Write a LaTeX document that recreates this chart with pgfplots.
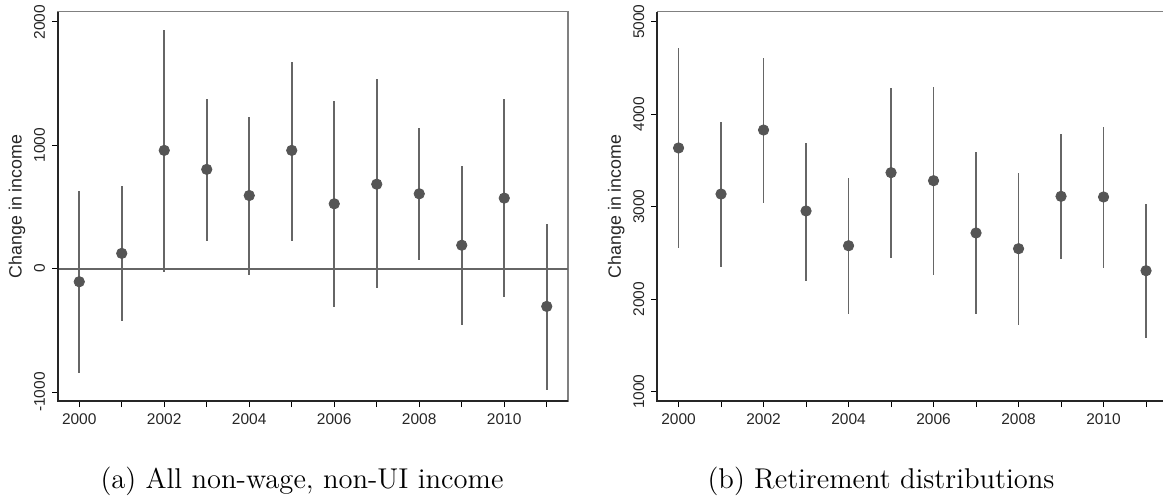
\documentclass[border=0pt]{standalone}
\usepackage{fontspec}
\usepackage{pgfplots}
\usepackage{pgfplotstable}
\pgfplotsset{compat=1.18}
\newfontfamily\arial{Liberation Sans}
\definecolor{pt}{HTML}{555555}
\definecolor{ln}{HTML}{666666}
\definecolor{frame}{HTML}{808080}

\pgfplotstableread{
year est lo hi
2000 -106 -848 629
2001 124 -423 667
2002 959 -30 1935
2003 805 228 1374
2004 593 -49 1228
2005 959 228 1675
2006 526 -309 1363
2007 685 -160 1534
2008 607 73 1141
2009 190 -458 835
2010 572 -233 1374
2011 -306 -984 363
}\left

\pgfplotstableread{
year est lo hi
2000 3635 2553 4712
2001 3137 2345 3916
2002 3829 3043 4611
2003 2954 2197 3689
2004 2578 1837 3307
2005 3368 2442 4280
2006 3281 2262 4291
2007 2716 1837 3588
2008 2546 1724 3368
2009 3112 2435 3783
2010 3105 2341 3865
2011 2308 1581 3029
}\right

\pgfplotsset{
  mystyle/.style={
    scale only axis,
    width=255pt, height=194.65pt,
    anchor=south west,
    xmin=1999.5, xmax=2011.5,
    axis line style={frame, line width=0.6pt},
    xtick={2000,...,2011},
    xticklabels={2000,,2002,,2004,,2006,,2008,,2010,},
    xtick pos=bottom, ytick pos=left,
    tick align=outside,
    major tick length=3pt,
    every tick/.style={black, line width=0.5pt},
    tick label style={font=\arial\fontsize{7.75}{9}\selectfont, text=black!85},
    yticklabel style={rotate=90, anchor=south},
    /pgf/number format/assume math mode=true,
    /pgf/number format/1000 sep={},
    ylabel={Change in income},
    ylabel shift=-2.5pt,
    ylabel style={font=\arial\fontsize{8.9}{10}\selectfont, text=black!85},
    clip=false,
    extra description/.code={
      \draw[black!85, line width=0.9pt] (rel axis cs:0,1) -- (rel axis cs:0,0) -- (rel axis cs:1,0);
    },
  },
  myplot/.style={
    only marks, mark=*, mark size=2.6pt,
    mark options={fill=pt, draw=pt},
    error bars/.cd, y dir=both, y explicit, error mark=none,
    error bar style={ln, line width=0.8pt},
  },
}

\begin{document}
\begin{tikzpicture}
\path[use as bounding box] (0,0) rectangle (581.5pt,250pt);
\begin{axis}[mystyle, at={(29pt,49.5pt)},
  ymin=-1073, ymax=2083.5, ytick={-1000,0,1000,2000}]
\addplot[ln, line width=1pt, forget plot] coordinates {(1999.5,0) (2011.5,0)};
\addplot+[myplot] table[x=year, y=est,
  y error plus expr=\thisrow{hi}-\thisrow{est},
  y error minus expr=\thisrow{est}-\thisrow{lo}] {\left};
\end{axis}
\begin{axis}[mystyle, at={(328.65pt,49.5pt)},
  ymin=899.5, ymax=5108, ytick={1000,2000,3000,4000,5000}]
\addplot+[myplot] table[x=year, y=est,
  y error plus expr=\thisrow{hi}-\thisrow{est},
  y error minus expr=\thisrow{est}-\thisrow{lo}] {\right};
\end{axis}
\node[anchor=base, font=\fontsize{14.3}{16}\selectfont] at (151pt,6pt) {(a) All non-wage, non-UI income};
\node[anchor=base, font=\fontsize{14.3}{16}\selectfont] at (440.5pt,6pt) {(b) Retirement distributions};
\end{tikzpicture}
\end{document}
